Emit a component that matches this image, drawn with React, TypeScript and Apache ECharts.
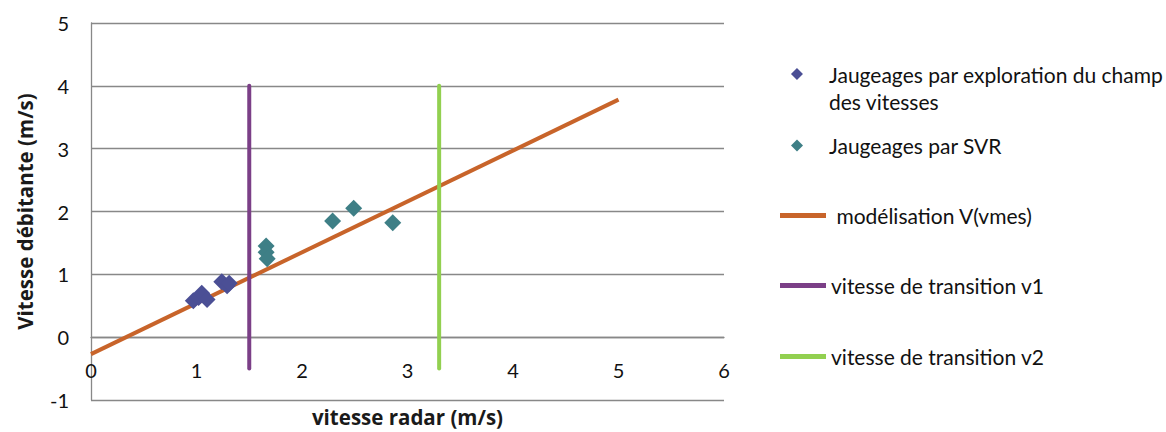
import React, { useEffect, useRef } from "react";
import * as echarts from "echarts";

const explorationPoints: [number, number][] = [
  [0.97, 0.58],
  [1.02, 0.63],
  [1.05, 0.7],
  [1.1, 0.6],
  [1.24, 0.88],
  [1.29, 0.82],
  [1.31, 0.86],
];
const svrPoints: [number, number][] = [
  [1.66, 1.45],
  [1.66, 1.35],
  [1.67, 1.25],
  [2.29, 1.85],
  [2.49, 2.05],
  [2.86, 1.82],
];
const modelLine: [number, number][] = [
  [0, -0.27],
  [5, 3.78],
];
const transitionV1: [number, number][] = [
  [1.5, 4],
  [1.5, -0.5],
];
const transitionV2: [number, number][] = [
  [3.3, 4],
  [3.3, -0.5],
];

const names = [
  "Jaugeages par exploration du champ\ndes vitesses",
  "Jaugeages par SVR",
  " modélisation V(vmes)",
  "vitesse de transition v1",
  "vitesse de transition v2",
];
const colors = ["#4B4F95", "#3E7F86", "#C8642A", "#7B3F87", "#92D050"];

const FONT = "Lato";
const TITLE_FONT = "Open Sans";
const FS = 20;
const Y_MIN = -1;
const Y_MAX = 5;
const GRID_TOP = 23;
const GRID_BOTTOM = 32;
const CHART_H = 432;

// diamond at top of a tall (invisible-extent) box so it lines up with the first text line
const DIAMOND_TOP = "path://M6,0L12,6L6,12L0,6Z M0,40L0.001,40L0,40.001Z";

export default function App() {
  const ref = useRef<HTMLDivElement>(null);
  useEffect(() => {
    if (!ref.current) return;
    const chart = echarts.init(ref.current, undefined, { renderer: "svg" });
    const textStyle = { fontFamily: FONT, fontSize: 21, color: "#111", lineHeight: 27 };
    // place the x axis where y = 0 (axis crosses at zero, like the original)
    const plotH = CHART_H - GRID_TOP - GRID_BOTTOM;
    const zeroOffset = -((0 - Y_MIN) / (Y_MAX - Y_MIN)) * plotH;
    const legends = [
      {
        top: 61,
        left: 791,
        itemWidth: 12,
        itemHeight: 40,
        icon: DIAMOND_TOP,
        pad: 21,
      },
      { top: 132, left: 791, itemWidth: 12, itemHeight: 12, icon: "diamond", pad: 21 },
      { top: 202, left: 780, itemWidth: 46, itemHeight: 5, icon: "rect", pad: 0 },
      { top: 272, left: 780, itemWidth: 46, itemHeight: 5, icon: "rect", pad: 0 },
      { top: 343, left: 780, itemWidth: 46, itemHeight: 5, icon: "rect", pad: 0 },
    ];
    const titleStyle = { fontFamily: TITLE_FONT, fontSize: 20.5, fontWeight: "bold", color: "#1a1a1a" };
    chart.setOption({
      animation: false,
      grid: {
        left: 91,
        right: 442,
        top: GRID_TOP,
        bottom: GRID_BOTTOM,
        containLabel: false,
        outerBoundsMode: "none",
      },
      xAxis: {
        type: "value",
        min: 0,
        max: 6,
        interval: 1,
        position: "bottom",
        offset: zeroOffset,
        name: "vitesse radar (m/s)",
        nameLocation: "middle",
        nameGap: 69,
        nameTextStyle: titleStyle,
        axisLine: { show: true, onZero: false, lineStyle: { color: "#888", width: 1.3 } },
        axisTick: { show: false },
        axisLabel: { fontFamily: FONT, fontSize: FS, color: "#111", margin: 23 },
        splitLine: { show: false },
      },
      yAxis: {
        type: "value",
        min: Y_MIN,
        max: Y_MAX,
        interval: 1,
        name: "Vitesse débitante (m/s)",
        nameLocation: "middle",
        nameGap: 56,
        nameTextStyle: titleStyle,
        axisLine: { show: true, onZero: false, lineStyle: { color: "#888", width: 1.3 } },
        axisTick: { show: false },
        axisLabel: { fontFamily: FONT, fontSize: FS, color: "#111", margin: 22 },
        splitLine: { show: true, lineStyle: { color: "#888", width: 1.3 } },
      },
      legend: names.map((n, i) => ({
        orient: "vertical",
        padding: 0,
        top: legends[i].top,
        left: legends[i].left,
        itemWidth: legends[i].itemWidth,
        itemHeight: legends[i].itemHeight,
        textStyle: { ...textStyle, padding: [0, 0, 0, legends[i].pad] },
        data: [{ name: n, icon: legends[i].icon }],
      })),
      series: [
        {
          name: names[2],
          type: "line",
          data: modelLine,
          symbol: "none",
          lineStyle: { color: colors[2], width: 4 },
          itemStyle: { color: colors[2] },
          z: 2,
        },
        {
          name: names[3],
          type: "line",
          data: transitionV1,
          symbol: "none",
          lineStyle: { color: colors[3], width: 4, cap: "round" },
          itemStyle: { color: colors[3] },
          z: 3,
        },
        {
          name: names[4],
          type: "line",
          data: transitionV2,
          symbol: "none",
          lineStyle: { color: colors[4], width: 4, cap: "round" },
          itemStyle: { color: colors[4] },
          z: 3,
        },
        {
          name: names[0],
          type: "scatter",
          data: explorationPoints,
          symbol: "diamond",
          symbolSize: 17,
          itemStyle: { color: colors[0], opacity: 1 },
          z: 4,
        },
        {
          name: names[1],
          type: "scatter",
          data: svrPoints,
          symbol: "diamond",
          symbolSize: 17,
          itemStyle: { color: colors[1], opacity: 1 },
          z: 4,
        },
      ],
    });
    return () => chart.dispose();
  }, []);
  return (
    <div
      ref={ref}
      style={{ width: 1166, height: 432, position: "absolute", left: 0, top: 0 }}
    />
  );
}
